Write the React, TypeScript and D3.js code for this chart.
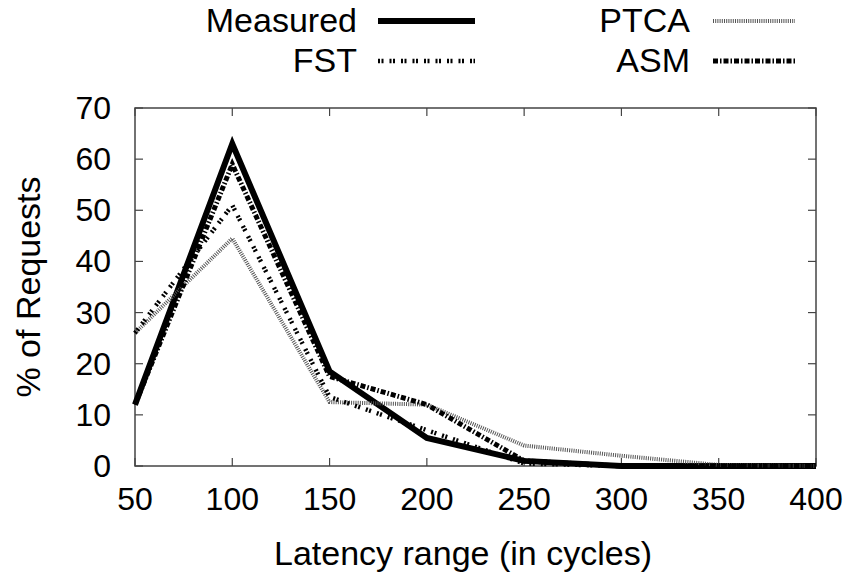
import React from "react";
import * as d3 from "d3";

const latency = [50, 100, 150, 200, 250, 300, 350, 400];
const measured = [12, 63, 18.5, 5.5, 1, 0, 0, 0];
const fst = [26, 51, 13.5, 7, 0.5, 0, 0, 0];
const ptca = [26, 44.5, 12.5, 12, 4, 2, 0.2, 0];
const asm = [12, 59, 17.5, 12, 1, 0, 0, 0];
const xTicks = [50, 100, 150, 200, 250, 300, 350, 400];
const yTicks = [0, 10, 20, 30, 40, 50, 60, 70];

const W = 854, H = 579;
const left = 135, right = 816, top = 108, bottom = 466;
const FONT = "'Liberation Sans', Arial, Helvetica, sans-serif";

const series = [
  { name: "PTCA", values: ptca, stroke: "#555", width: 4, dash: "1 1.2" },
  { name: "FST", values: fst, stroke: "#000", width: 4.5, dash: "2 1.5 2 6" },
  { name: "ASM", values: asm, stroke: "#000", width: 5, dash: "5 2 1.5 2" },
  { name: "Measured", values: measured, stroke: "#000", width: 6, dash: null as string | null },
];

export default function App() {
  const x = d3.scaleLinear().domain([50, 400]).range([left, right]);
  const y = d3.scaleLinear().domain([0, 70]).range([bottom, top]);
  const line = d3.line<number>().x((_, i) => x(latency[i])).y((d) => y(d));

  const legend = [
    { s: series[3], tx: 357, ty: 32, lx0: 378, lx1: 475 },
    { s: series[1], tx: 357, ty: 72, lx0: 378, lx1: 475 },
    { s: series[0], tx: 690, ty: 32, lx0: 713, lx1: 795 },
    { s: series[2], tx: 690, ty: 72, lx0: 713, lx1: 795 },
  ];

  return (
    <svg width={W} height={H} style={{ position: "absolute", left: 0, top: 0, background: "#fff" }} fontFamily={FONT}>
      <rect x={0} y={0} width={W} height={H} fill="#fff" />
      {/* frame */}
      <rect x={left} y={top} width={right - left} height={bottom - top} fill="none" stroke="#444" strokeWidth={1.5} />
      {/* ticks */}
      {xTicks.map((t) => (
        <g key={"xt" + t}>
          <line x1={x(t)} x2={x(t)} y1={bottom} y2={bottom - 8} stroke="#444" strokeWidth={1.2} />
          <line x1={x(t)} x2={x(t)} y1={top} y2={top + 8} stroke="#444" strokeWidth={1.2} />
          <text x={x(t)} y={510} fontSize={32} textAnchor="middle" fill="#000">{t}</text>
        </g>
      ))}
      {yTicks.map((t) => (
        <g key={"yt" + t}>
          <line x1={left} x2={left + 8} y1={y(t)} y2={y(t)} stroke="#444" strokeWidth={1.2} />
          <line x1={right} x2={right - 8} y1={y(t)} y2={y(t)} stroke="#444" strokeWidth={1.2} />
          <text x={111} y={y(t) + 11} fontSize={32} textAnchor="end" fill="#000">{t}</text>
        </g>
      ))}
      {/* series */}
      {[series[3], series[0], series[1], series[2]].map((s) => (
        <path key={s.name} d={line(s.values) || ""} fill="none" stroke={s.stroke} strokeWidth={s.width}
          strokeDasharray={s.dash || undefined} strokeLinejoin="miter" />
      ))}
      {/* axis titles */}
      <text x={463} y={565} fontSize={34} textAnchor="middle" fill="#000">Latency range (in cycles)</text>
      <text transform={`translate(40,287) rotate(-90)`} fontSize={34} textAnchor="middle" fill="#000">% of Requests</text>
      {/* legend */}
      {legend.map((l) => (
        <g key={"lg" + l.s.name}>
          <text x={l.tx} y={l.ty} fontSize={34} textAnchor="end" fill="#000">{l.s.name}</text>
          <line x1={l.lx0} x2={l.lx1} y1={l.ty - 11} y2={l.ty - 11} stroke={l.s.stroke} strokeWidth={l.s.width}
            strokeDasharray={l.s.dash || undefined} />
        </g>
      ))}
    </svg>
  );
}
